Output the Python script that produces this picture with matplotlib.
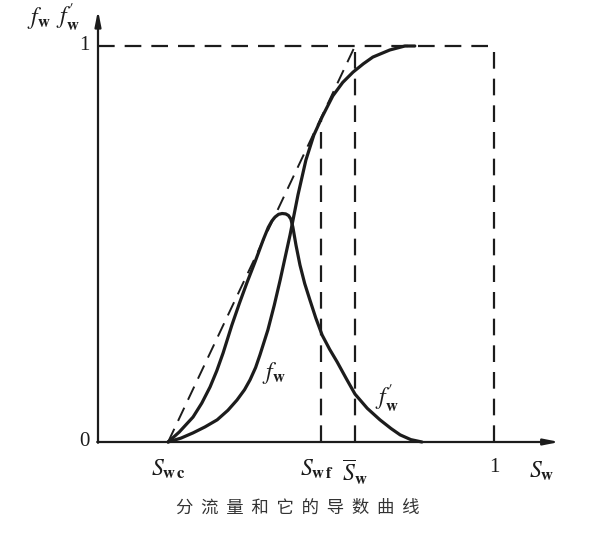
import matplotlib
matplotlib.use("Agg")
import matplotlib.pyplot as plt

plt.rcParams['mathtext.fontset'] = 'stix'
plt.rcParams['font.family'] = ['Noto Sans CJK SC', 'DejaVu Sans']

# key saturations
swc = 0.177
swf = 0.563
sw_bar = 0.649

# fractional flow fw
fw_s = [0.177, 0.210, 0.240, 0.270, 0.301, 0.328, 0.351, 0.370, 0.384, 0.398,
        0.409, 0.429, 0.445, 0.460, 0.485, 0.505, 0.525, 0.545, 0.566, 0.593,
        0.618, 0.644, 0.670, 0.694, 0.737, 0.775, 0.80]
fw_v = [0.0, 0.010, 0.023, 0.038, 0.056, 0.080, 0.106, 0.132, 0.157, 0.188,
        0.220, 0.283, 0.345, 0.409, 0.523, 0.624, 0.712, 0.775, 0.821, 0.874,
        0.908, 0.934, 0.955, 0.972, 0.990, 1.0, 1.0]

# derivative fw'
dfw_s = [0.177, 0.205, 0.240, 0.262, 0.283, 0.300, 0.316, 0.338, 0.357, 0.376,
         0.397, 0.417, 0.430, 0.439, 0.447, 0.456, 0.465, 0.474, 0.481, 0.487,
         0.492, 0.500, 0.510, 0.522, 0.535, 0.550, 0.566, 0.585, 0.604, 0.627,
         0.649, 0.680, 0.712, 0.740, 0.763, 0.790, 0.818]
dfw_v = [0.0, 0.025, 0.063, 0.098, 0.139, 0.180, 0.225, 0.295, 0.350, 0.402,
         0.456, 0.510, 0.542, 0.558, 0.568, 0.575, 0.577, 0.576, 0.572, 0.563,
         0.543, 0.497, 0.447, 0.400, 0.359, 0.313, 0.270, 0.234, 0.202, 0.160,
         0.121, 0.085, 0.056, 0.034, 0.018, 0.006, 0.0]

ink = '#1c1c1c'
dash = (0, (7.5, 4.5))

fig = plt.figure(figsize=(6.0, 5.36), dpi=100)
ax = fig.add_axes([0, 0, 1, 1])
ax.set_xlim(-98 / 396, 502 / 396)
ax.set_ylim(-94 / 396, 442 / 396)
ax.axis('off')

# axes with arrows
ax.annotate('', xy=(1.165, 0), xytext=(-0.002, 0),
            arrowprops=dict(arrowstyle='-|>,head_length=0.9,head_width=0.18',
                            color=ink, lw=1.6, shrinkA=0, shrinkB=0))
ax.annotate('', xy=(0, 1.09), xytext=(0, -0.002),
            arrowprops=dict(arrowstyle='-|>,head_length=0.9,head_width=0.18',
                            color=ink, lw=1.6, shrinkA=0, shrinkB=0))

# dashed guides
ax.plot([0, 1], [1, 1], color=ink, lw=1.6, linestyle=dash)
ax.plot([1, 1], [0, 1], color=ink, lw=1.6, linestyle=dash)
ax.plot([sw_bar, sw_bar], [0, 1], color=ink, lw=1.6, linestyle=dash)
ax.plot([swf, swf], [0, 0.818], color=ink, lw=1.6, linestyle=dash)
ax.plot([swc, sw_bar], [0, 1], color=ink, lw=1.4, linestyle=dash)

# curves
ax.plot(fw_s, fw_v, color=ink, lw=2.3, solid_capstyle='round', solid_joinstyle='round')
ax.plot(dfw_s, dfw_v, color=ink, lw=2.3, solid_capstyle='round', solid_joinstyle='round')

# labels
fs = 17
num = dict(fontsize=15, family='Liberation Serif', color=ink)
ax.text(-0.022, 0.0, '0', ha='right', va='center', **num)
ax.text(-0.022, 1.0, '1', ha='right', va='center', **num)
ax.text(-0.15, 1.07, r'$f_{\mathbf{w}}$', fontsize=fs, ha='center', va='center', color=ink)
ax.text(-0.075, 1.07, r"$f_{\mathbf{w}}^{\prime}$", fontsize=fs, ha='center', va='center', color=ink)
ax.text(swc, -0.04, r'$S_{\mathbf{w\,c}}$', fontsize=fs, ha='center', va='top', color=ink)
ax.text(swf - 0.01, -0.04, r'$S_{\mathbf{w\,f}}$', fontsize=fs, ha='center', va='top', color=ink)
ax.text(sw_bar, -0.04, r'$\overline{S}_{\mathbf{w}}$', fontsize=fs, ha='center', va='top', color=ink)
ax.text(1.0, -0.04, '1', ha='center', va='top', **num)
ax.text(1.12, -0.045, r'$S_{\mathbf{w}}$', fontsize=fs, ha='center', va='top', color=ink)
ax.text(0.445, 0.175, r'$f_{\mathbf{w}}$', fontsize=fs, ha='center', va='center', color=ink)
ax.text(0.73, 0.11, r"$f_{\mathbf{w}}^{\prime}$", fontsize=fs, ha='center', va='center', color=ink)

ax.text(0.505, -0.165, '分  流  量  和  它  的  导  数  曲  线', fontsize=12.5,
        ha='center', va='center', color='#333333')

fig.savefig('out.png', dpi=100)
